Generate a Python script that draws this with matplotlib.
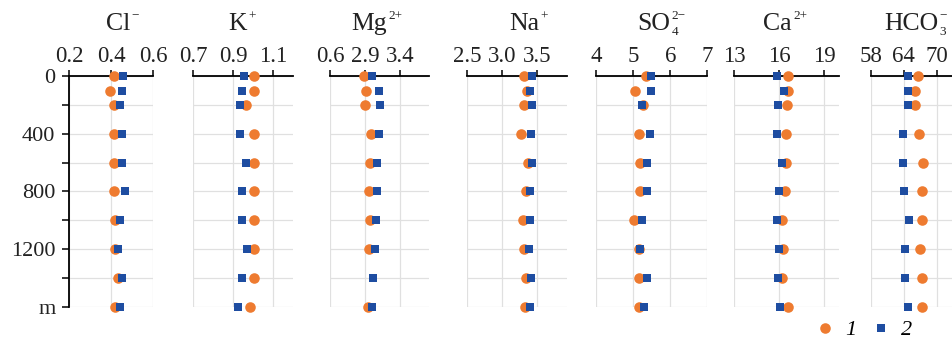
import numpy as np
import matplotlib
matplotlib.use("Agg")
import matplotlib.pyplot as plt
from matplotlib.lines import Line2D

plt.rcParams['font.family'] = ['Liberation Serif', 'DejaVu Serif']

# ---- data ----
depth = [0, 100, 200, 400, 600, 800, 1000, 1200, 1400, 1600]

title_base = ['Cl', 'K', 'Mg', 'Na', 'SO', 'Ca', 'HCO']
title_sup = ['\u2212', '+', '2+', '+', '2\u2212', '2+', '\u2212']
title_sub = ['', '', '', '', '4', '', '3']

cl_1 = [0.413, 0.394, 0.413, 0.413, 0.413, 0.413, 0.416, 0.419, 0.432, 0.419]
cl_2 = [0.454, 0.451, 0.441, 0.452, 0.452, 0.464, 0.441, 0.432, 0.452, 0.441]

k_1 = [1.004, 1.002, 0.962, 1.004, 1.004, 1.004, 1.004, 1.004, 1.004, 0.982]
k_2 = [0.955, 0.945, 0.934, 0.934, 0.962, 0.945, 0.945, 0.970, 0.945, 0.925]

mg_1 = [2.89, 2.914, 2.90, 2.986, 2.971, 2.957, 2.971, 2.957, np.nan, 2.948]
mg_2 = [2.996, 3.105, 3.114, 3.10, 3.08, 3.067, 3.057, 3.043, 3.01, 2.996]

na_1 = [3.317, 3.356, 3.317, 3.274, 3.38, 3.35, 3.298, 3.322, 3.35, 3.33]
na_2 = [3.437, 3.40, 3.437, 3.418, 3.437, 3.408, 3.40, 3.393, 3.418, 3.40]

so4_1 = [5.35, 5.05, 5.28, 5.16, 5.19, 5.19, 5.02, 5.16, 5.17, 5.16]
so4_2 = [5.47, 5.47, 5.23, 5.46, 5.37, 5.37, 5.23, 5.19, 5.37, 5.30]

ca_1 = [16.61, 16.61, 16.50, 16.44, 16.47, 16.37, 16.21, 16.23, 16.19, 16.61]
ca_2 = [15.84, 16.35, 15.95, 15.84, 16.19, 15.97, 15.84, 15.97, 15.93, 16.06]

hco3_1 = [66.53, 66.04, 66.04, 66.77, 67.56, 67.38, 67.30, 66.95, 67.30, 67.30]
hco3_2 = [64.82, 64.82, 64.82, 63.90, 63.90, 64.09, 64.88, 64.20, 64.20, 64.82]

series_1 = [cl_1, k_1, mg_1, na_1, so4_1, ca_1, hco3_1]
series_2 = [cl_2, k_2, mg_2, na_2, so4_2, ca_2, hco3_2]

xticks = [[0.2, 0.4, 0.6], [0.7, 0.9, 1.1], [2.4, 2.9, 3.4], [2.5, 3.0, 3.5],
          [4, 5, 6, 7], [13, 16, 19], [58, 64, 70]]
xticklabels = [['0.2', '0.4', '0.6'], ['0.7', '0.9', '1.1'], ['0.6', '2.9', '3.4'],
               ['2.5', '3.0', '3.5'], ['4', '5', '6', '7'], ['13', '16', '19'],
               ['58', '64', '70']]
xlims = [(0.2, 0.6), (0.7, 1.2), (2.4, 3.82), (2.5, 3.93), (4, 7), (13, 20), (58, 76)]

yticks = [0, 200, 400, 600, 800, 1000, 1200, 1400, 1600]
yticklabels = ['0', '', '400', '', '800', '', '1200', '', 'm']

legend_labels = ['1', '2']

# ---- layout (pixel geometry) ----
W, H = 952, 343
fig = plt.figure(figsize=(W / 100, H / 100), dpi=100)
top_px, bot_px = 76.3, 306.5
panel_px = [(69.3, 153.3), (193.3, 293.3), (330, 429), (467.3, 566.7),
            (596, 707.3), (734.3, 839), (871, 969.5)]
title_left_px = [106, 228, 351, 509, 637, 763, 884]
title_y_px = 24

orange = '#EE7B30'
blue = '#1E4DA1'
grid_c = '#e0e0e0'
txt_c = '#222222'

for i, (x0, x1) in enumerate(panel_px):
    ax = fig.add_axes([x0 / W, 1 - bot_px / H, (x1 - x0) / W, (bot_px - top_px) / H])
    ax.set_xlim(*xlims[i])
    ax.set_ylim(1600, 0)
    ax.xaxis.tick_top()
    ax.set_xticks(xticks[i])
    ax.set_xticklabels(xticklabels[i])
    ax.set_yticks(yticks)
    ax.grid(True, color=grid_c, lw=0.9)
    ax.set_axisbelow(True)
    for s in ['right', 'bottom', 'left']:
        ax.spines[s].set_visible(False)
    ax.spines['top'].set_linewidth(1.3)
    ax.tick_params(axis='x', direction='out', length=4, width=1.1, pad=3,
                   labelsize=16.5, colors='black', labelcolor=txt_c)
    if i == 0:
        ax.spines['left'].set_visible(True)
        ax.spines['left'].set_linewidth(1.3)
        ax.set_yticklabels(yticklabels)
        ax.tick_params(axis='y', direction='out', length=5, width=1.1, pad=5,
                       labelsize=16, labelcolor=txt_c)
    else:
        ax.tick_params(axis='y', length=0, labelleft=False)
    ax.plot(series_1[i], depth, 'o', color=orange, ms=7.6, mew=0, clip_on=False, zorder=3)
    ax.plot(series_2[i], depth, 's', color=blue, ms=6.0, mew=0, clip_on=False, zorder=4)
    base = fig.text(title_left_px[i] / W, 1 - title_y_px / H, title_base[i],
                    ha='left', va='center', fontsize=18.5, color=txt_c)
    if title_sup[i]:
        ax.annotate(title_sup[i], xy=(1.0, 0.85), xycoords=base, xytext=(1, 0),
                    textcoords='offset points', ha='left', va='center',
                    fontsize=9.5, color=txt_c, annotation_clip=False)
    if title_sub[i]:
        ax.annotate(title_sub[i], xy=(1.0, 0.12), xycoords=base, xytext=(1, 0),
                    textcoords='offset points', ha='left', va='center',
                    fontsize=9.5, color=txt_c, annotation_clip=False)

handles = [Line2D([], [], ls='none', marker='o', color=orange, ms=7.6, mew=0),
           Line2D([], [], ls='none', marker='s', color=blue, ms=6.0, mew=0)]
fig.legend(handles, legend_labels, loc='center', bbox_to_anchor=(864 / W, 1 - 330 / H),
           ncol=2, frameon=False, handlelength=0.8, handletextpad=0.5, columnspacing=0.7,
           prop={'style': 'italic', 'size': 16})

fig.savefig('out.png', dpi=100)
